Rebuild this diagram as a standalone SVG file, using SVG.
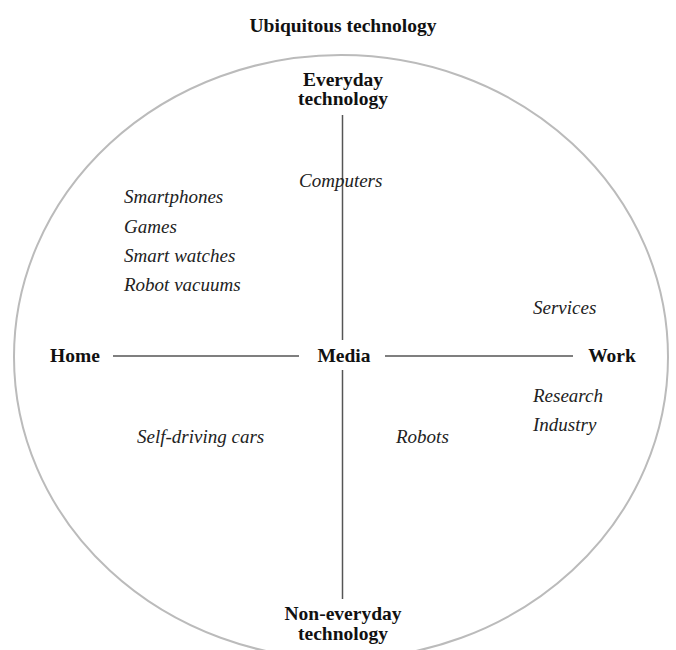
<svg xmlns="http://www.w3.org/2000/svg" width="676" height="650" viewBox="0 0 676 650">
  <style>
    .b { font-family: "Liberation Serif", serif; font-weight: bold; font-size: 19.5px; fill: #111; text-anchor: middle; }
    .i { font-family: "Liberation Serif", serif; font-style: italic; font-size: 19px; fill: #222; }
    .axis { stroke: #555; stroke-width: 1.5; fill: none; }
  </style>
  <rect width="676" height="650" fill="#fff"/>
  <text class="b" x="343" y="32" font-size="23">Ubiquitous technology</text>
  <!-- outer boundary, runs off the bottom edge -->
  <ellipse cx="341" cy="357" rx="327" ry="302" fill="none" stroke="#bbb" stroke-width="2"/>
  <g id="connectors">
    <line class="axis" x1="342.5" y1="115" x2="342.5" y2="340"/>
    <line class="axis" x1="342.5" y1="370" x2="342.5" y2="599"/>
    <line class="axis" x1="113" y1="356" x2="299" y2="356"/>
    <line class="axis" x1="385" y1="356" x2="573" y2="356"/>
  </g>
  <g id="everyday"><text class="b" x="343" y="86">Everyday</text><text class="b" x="343" y="105">technology</text></g>
  <g id="noneveryday"><text class="b" x="343" y="620">Non-everyday</text><text class="b" x="343" y="640">technology</text></g>
  <g id="home"><text class="b" x="75" y="362">Home</text></g>
  <g id="media"><text class="b" x="344" y="362">Media</text></g>
  <g id="work"><text class="b" x="612" y="362">Work</text></g>
  <g id="items">
    <text class="i" x="299" y="187">Computers</text>
    <text class="i" x="124" y="203">Smartphones</text>
    <text class="i" x="124" y="233">Games</text>
    <text class="i" x="124" y="262">Smart watches</text>
    <text class="i" x="124" y="291">Robot vacuums</text>
    <text class="i" x="533" y="314">Services</text>
    <text class="i" x="533" y="402">Research</text>
    <text class="i" x="533" y="431">Industry</text>
    <text class="i" x="137" y="443">Self-driving cars</text>
    <text class="i" x="396" y="443">Robots</text>
  </g>
</svg>
